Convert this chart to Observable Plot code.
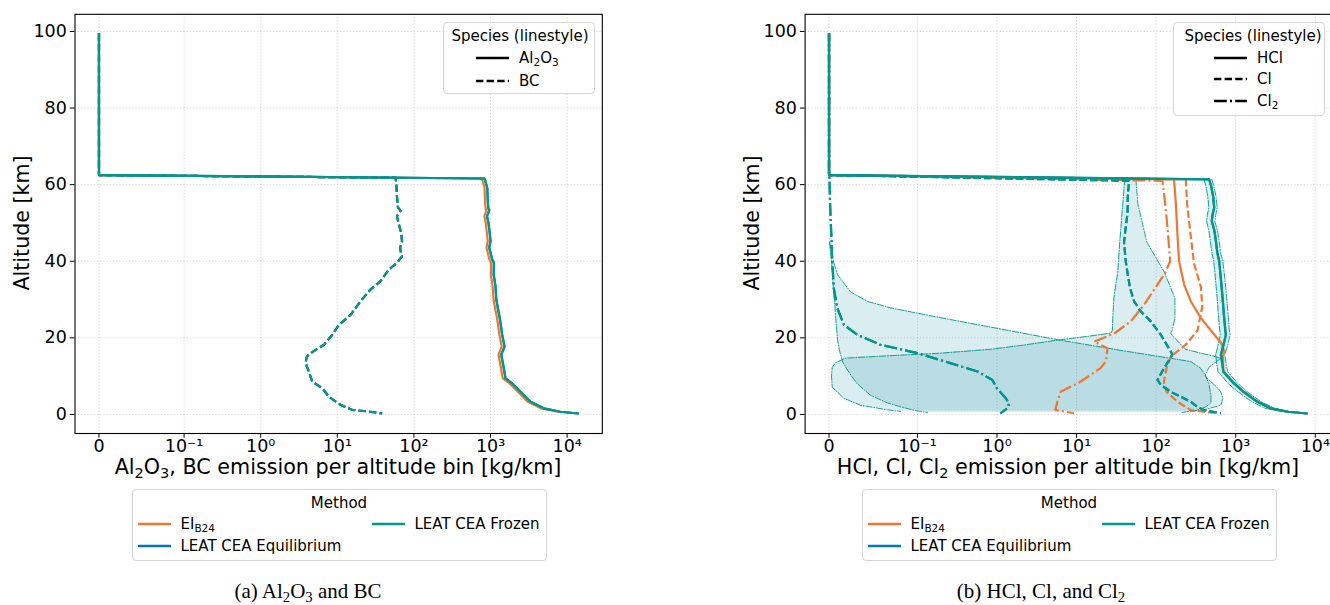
<!DOCTYPE html>
<html><head><meta charset="utf-8">
<script src="https://cdn.jsdelivr.net/npm/d3@7"></script>
<script src="https://cdn.jsdelivr.net/npm/@observablehq/plot@0.6"></script>
<style>
body{margin:0;background:#fff;overflow:hidden;font-family:"DejaVu Sans",sans-serif;}
#fig{position:relative;width:1330px;height:605px;overflow:hidden;background:#fff;color:#000;}
.panel{position:absolute;top:0;}
.abs{position:absolute;white-space:nowrap;}
.ylab{font-size:20.6px;transform:translate(-50%,-50%) rotate(-90deg);}
.xlab{font-size:20.7px;transform:translate(-50%,-50%);}
.leg{position:absolute;border:1px solid #d4d4d4;border-radius:4px;background:rgba(255,255,255,0.85);font-size:15px;}
.leg .t{position:absolute;transform:translate(-50%,-50%);white-space:nowrap;}
.leg .l{position:absolute;transform:translateY(-50%);white-space:nowrap;}
.leg svg{position:absolute;}
sub{font-size:70%;vertical-align:-0.28em;line-height:0;}
.cap{font-family:"Liberation Serif",serif;font-size:21px;line-height:1;transform:translate(-50%,-50%);}
</style></head>
<body><div id="fig"></div>
<script>
// ---------- colours ----------
const cEI = "#EE7733", cEq = "#0077BB", cFr = "#009988", bandFill = "#0a8898";
// ---------- axis ticks ----------
const xTickValues = [0, 0.1, 1, 10, 100, 1000, 10000];
const xTickLabels = ["0", "10⁻¹", "10⁰", "10¹", "10²", "10³", "10⁴"];
const yTickValues = [0, 20, 40, 60, 80, 100];

// ---------- panel (a) data ----------
const altBC = [99.5,62.5,61.8,60.1,57,54,53.2,51.8,50,47.5,45.2,43.5,42.6,41.3,39.6,37.8,34.8,32.6,29.5,26.0,23.4,20.8,18.2,16.0,15.1,13.4,11.2,8.6,6.8,4.6,2.5,1.2,0.7,0.25];
const bcFrozen = [0,0,57.6,59,60,62,67,60,63,68,70,66,67,70,60,47,36.6,27,20,14.9,10.5,8.6,6.7,4.5,4.0,3.85,4.25,4.7,6.4,7.8,11,15.6,27,38.5];
const bcEquil = bcFrozen;   // overlaps frozen
const bcEI = bcFrozen;      // overlaps frozen

const altAl = [99.5,62.5,61.6,59.2,56,54,53.2,51.8,50,47,45.2,43.5,42.6,40.5,39.6,36.5,33.5,30,27.8,25.2,20.8,17.7,15.6,12.9,9.4,8.1,5.9,3.3,1.6,0.7,0.25];
const al2o3Frozen = [0,0,835,906,920,933,960,900,940,980,1000,960,990,1050,1105,1100,1160,1190,1245,1320,1420,1525,1380,1465,1570,1920,2466,3330,4970,8200,14200];
const al2o3Equil = al2o3Frozen;
const al2o3EI = [0,0,770,835,845,860,880,830,865,900,920,885,910,965,1015,1010,1065,1095,1145,1215,1305,1400,1270,1345,1445,1770,2270,3060,4570,7550,13800];

// ---------- panel (b) data ----------
const altHCl = [99.5,62.5,61.4,59.7,57,54,52,50.5,48,45.2,42,40,35.6,30.4,25.2,22,20.8,18,15.6,13,11.2,8.1,5.8,3.3,1.6,0.7,0.25];
const hclFrozen = [0,0,464,490,520,537,510,500,540,564,590,620,650,684,716,740,753,700,651,680,700,957,1280,1880,2770,4500,8000];
const hclEquil = hclFrozen;
const altCl = [99.5,62.5,61,57,52.6,48,44.9,40,36.9,33,29.5,26.9,24.3,20.8,16.4,15.6,12.1,9.0,7.7,5.9,3.3,2.0,1.1,0.3];
const clFrozen = [0,0,45.8,44,43.7,41,39.5,41.5,43.7,47,52.9,64.3,85.8,114.5,153,160,126,104,114.5,153,273,330,402,651];
const clEquil = clFrozen;
const altCl2 = [99.5,62.5,61.5,55,50,45,40,33,27.8,23.4,20.8,18.2,16,13.4,11.2,9.0,6.8,4.2,2.9,1.6,0.3];
const cl2Frozen = [0,0,0.0005,0.0012,0.002,0.003,0.0036,0.0054,0.0093,0.0168,0.032,0.058,0.1,0.26,0.57,0.875,1.0,1.29,1.42,1.35,1.1];
const cl2Equil = cl2Frozen;

const altHClEI = [99.5,62.5,61.4,55,46.3,40,33.9,29.5,25.2,21.9,18.8,16.5,15,11,8,5.8,3.3,1.6,0.7,0.25];
const hclEI = [0,0,168,177,186,194,225,273,365,488,651,717,690,700,950,1250,1850,2700,4400,7800];
const altClEI = [99.5,62.5,61.4,55,46.3,39.3,33.3,28.1,21.9,18.2,15.1,12,8.6,5.9,3.3,1.1,0.3];
const clEI = [0,0,236,245,273,300,365,380,331,236,153,135,125,135,186,273,600];
const altCl2EI = [99.5,62.5,61,55,48.7,44,40,37,33.9,28.7,24.3,21.2,19,17.3,13.8,12.1,8.6,5.9,3.3,1.2,0.3];
const cl2EI = [0,0,120,130,139,145,150,130,104,71,48,30,16.6,24.5,23.3,20,11.3,6.3,5.75,5.4,9.3];

// uncertainty bands (frozen)
const altBandCl2 = [45,40,36.5,32,29.5,27.8,25.6,22.8,19.5,16.6,13.8,12,10,8,5,3,2,1,0.5];
const bandCl2Lo = [0.0006,0.0028,0.004,0.005,0.0062,0.0068,0.0074,0.0085,0.0096,0.0119,0.0153,0.0198,0.0255,0.032,0.047,0.066,0.081,0.098,0.134];
const bandCl2Hi = [0.0006,0.005,0.0096,0.0243,0.0436,0.07,0.16,0.83,5.8,39,273,365,422,460,488,488,422,316,204];
const altBandCl = [61.5,55,45,37.4,30.4,25,21.9,21.2,20.5,19.4,18,17,16,15.2,14.7,13.5,12.3,10,7.1,5.9,4.2,2.4,1.2,0.8];
const bandClLo = [40.4,38.1,34.9,33.0,29.4,28.5,28.2,26.9,15.1,5.8,1.99,0.83,0.196,0.0583,0.0187,0.0074,0.0036,0.0028,0.0036,0.0093,0.0168,0.0357,0.0659,0.081];
const bandClHi = [55.6,58.9,76.4,125,172,172,158,153,162,182,210,236,365,532,651,547,460,409,580,651,690,651,398,273];
const altBandHCl = [61.4,59.7,57,54,52,50.5,48,45.2,42,40,35.6,30.4,25.2,22,20.8,18,15.6,13,11.2,8.1,5.8,3.3,1.6,0.7];
const bandHClLo = [400,420,445,460,440,430,460,480,505,530,555,585,610,630,640,600,560,580,600,800,1080,1600,2350,3800];
const bandHClHi = [500,530,565,585,560,545,590,620,650,690,730,770,810,830,850,790,730,760,790,1060,1420,2080,3080,5000];

// ---------- symlog (linthresh 0.1, linscale 1, base 10) ----------
const LIN = 0.1, LSA = 1 / (1 - 1 / 10);
const T = v => { const a = Math.abs(v); return Math.sign(v) * (a <= LIN ? a / LIN * LSA : LSA + Math.log10(a / LIN)); };
const xTickT = xTickValues.map(T);
const labelOf = new Map(xTickT.map((t, i) => [t, xTickLabels[i]]));

const zip = (alt, v) => alt.map((a, i) => ({alt: a, v: v[i]}));
const zipBand = (alt, lo, hi) => alt.map((a, i) => ({alt: a, lo: lo[i], hi: hi[i]}));

const DASH = {solid: null, dashed: "7.4,3.2", dashdot: "12.8,3.2,2,3.2"};
const BAND_DASH = "6.4,1.6,1,1.6";

function lineMark(alt, v, stroke, style, w = 2.2) {
  return Plot.line(zip(alt, v), {x: d => T(d.v), y: "alt", stroke, strokeWidth: w,
    strokeDasharray: DASH[style], strokeLinejoin: "round", strokeLinecap: "butt"});
}
function bandMarks(alt, lo, hi) {
  const data = zipBand(alt, lo, hi);
  return [
    Plot.areaX(data, {y: "alt", x1: d => T(d.lo), x2: d => T(d.hi), fill: bandFill, fillOpacity: 0.15}),
    Plot.line(data, {x: d => T(d.lo), y: "alt", stroke: cFr, strokeWidth: 0.9, strokeDasharray: BAND_DASH}),
    Plot.line(data, {x: d => T(d.hi), y: "alt", stroke: cFr, strokeWidth: 0.9, strokeDasharray: BAND_DASH})
  ];
}

function makePanel({width, ml, mr, xdom, marks}) {
  return Plot.plot({
    width, height: 480, marginLeft: ml, marginRight: mr, marginTop: 13.8, marginBottom: 47,
    style: {fontFamily: "DejaVu Sans", fontSize: "17.5px", color: "black", background: "transparent"},
    x: {type: "linear", domain: xdom},
    y: {type: "linear", domain: [-4.98, 104.48]},
    marks: [
      Plot.gridX({ticks: xTickT, stroke: "#a8a8a8", strokeOpacity: 0.55, strokeDasharray: "1.2,2", strokeWidth: 0.9}),
      Plot.gridY({ticks: yTickValues, stroke: "#a8a8a8", strokeOpacity: 0.55, strokeDasharray: "1.2,2", strokeWidth: 0.9}),
      ...marks,
      Plot.frame({stroke: "black", strokeWidth: 1.1}),
      Plot.axisX({ticks: xTickT, tickFormat: t => labelOf.get(t), tickSize: 4.7, tickPadding: 1.5, fontSize: 17.5, label: null}),
      Plot.axisY({ticks: yTickValues, tickSize: 4.7, tickPadding: 3.5, fontSize: 17.5, label: null})
    ]
  });
}

const fig = document.getElementById("fig");

// panel (a)
const pa = makePanel({width: 665, ml: 74.5, mr: 63.2, xdom: [-0.313, 6.57], marks: [
  lineMark(altBC, bcEI, cEI, "dashed"), lineMark(altAl, al2o3EI, cEI, "solid"),
  lineMark(altBC, bcEquil, cEq, "dashed"), lineMark(altAl, al2o3Equil, cEq, "solid"),
  lineMark(altBC, bcFrozen, cFr, "dashed"), lineMark(altAl, al2o3Frozen, cFr, "solid")
]});
pa.classList.add("panel"); pa.style.left = "0px"; fig.appendChild(pa);

// panel (b)
const pb = makePanel({width: 670, ml: 139.6, mr: 4, xdom: [-0.3007, 6.315], marks: [
  ...bandMarks(altBandCl2, bandCl2Lo, bandCl2Hi),
  ...bandMarks(altBandCl, bandClLo, bandClHi),
  ...bandMarks(altBandHCl, bandHClLo, bandHClHi),
  lineMark(altHClEI, hclEI, cEI, "solid"), lineMark(altClEI, clEI, cEI, "dashed"), lineMark(altCl2EI, cl2EI, cEI, "dashdot"),
  lineMark(altHCl, hclEquil, cEq, "solid"), lineMark(altCl, clEquil, cEq, "dashed"), lineMark(altCl2, cl2Equil, cEq, "dashdot"),
  lineMark(altHCl, hclFrozen, cFr, "solid"), lineMark(altCl, clFrozen, cFr, "dashed"), lineMark(altCl2, cl2Frozen, cFr, "dashdot")
]});
pb.classList.add("panel"); pb.style.left = "665px"; fig.appendChild(pb);

// ---------- text overlays ----------
function addText(html, cls, x, y) {
  const d = document.createElement("div");
  d.className = "abs " + cls; d.innerHTML = html;
  d.style.left = x + "px"; d.style.top = y + "px";
  fig.appendChild(d);
}
addText("Altitude [km]", "ylab", 22, 223);
addText("Altitude [km]", "ylab", 752, 223);
addText("Al<sub>2</sub>O<sub>3</sub>, BC emission per altitude bin [kg/km]", "xlab", 338, 467);
addText("HCl, Cl, Cl<sub>2</sub> emission per altitude bin [kg/km]", "xlab", 1068, 467);
addText("(a) Al<sub>2</sub>O<sub>3</sub> and BC", "cap", 308, 591);
addText("(b) HCl, Cl, and Cl<sub>2</sub>", "cap", 1041, 591);

function swatch(color, dash) {
  return `<svg width="34" height="10" style="left:0;top:0;position:static;display:block"><line x1="0" y1="5" x2="33" y2="5" stroke="${color}" stroke-width="2.5" ${dash ? `stroke-dasharray="${dash}"` : ""}/></svg>`;
}
function legend({left, top, w, h, title, titleX, items}) {
  const box = document.createElement("div");
  box.className = "leg";
  Object.assign(box.style, {left: left + "px", top: top + "px", width: w + "px", height: h + "px"});
  let html = `<div class="t" style="left:${titleX}px;top:13px">${title}</div>`;
  for (const it of items) {
    html += `<div style="position:absolute;left:${it.sx}px;top:${it.y - 5}px">${swatch(it.color, it.dash)}</div>`;
    html += `<div class="l" style="left:${it.lx}px;top:${it.y}px">${it.label}</div>`;
  }
  box.innerHTML = html;
  fig.appendChild(box);
}
// species legends
const speciesA = ["Al<sub>2</sub>O<sub>3</sub>", "BC"];
const speciesB = ["HCl", "Cl", "Cl<sub>2</sub>"];
const speciesDash = [DASH.solid, DASH.dashed, DASH.dashdot];
legend({left: 443, top: 21.5, w: 150, h: 70, title: "Species (linestyle)", titleX: 76,
  items: speciesA.map((s, i) => ({sx: 31.5, lx: 75, y: 35 + i * 23, color: "#000", dash: speciesDash[i], label: s}))});
legend({left: 1173, top: 21.5, w: 150, h: 92, title: "Species (linestyle)", titleX: 79,
  items: speciesB.map((s, i) => ({sx: 40, lx: 83, y: 35 + i * 21.5, color: "#000", dash: speciesDash[i], label: s}))});
// method legends
const methods = ["EI<sub>B24</sub>", "LEAT CEA Equilibrium", "LEAT CEA Frozen"];
const methodColors = [cEI, cEq, cFr];
const methodPos = [{sx: 5, lx: 48, y: 34}, {sx: 5, lx: 48, y: 56}, {sx: 239, lx: 282, y: 34}];
for (const left of [131.5, 861.5]) {
  legend({left, top: 489, w: 413, h: 70, title: "Method", titleX: 206.5,
    items: methods.map((m, i) => ({...methodPos[i], color: methodColors[i], dash: null, label: m}))});
}
</script></body></html>
